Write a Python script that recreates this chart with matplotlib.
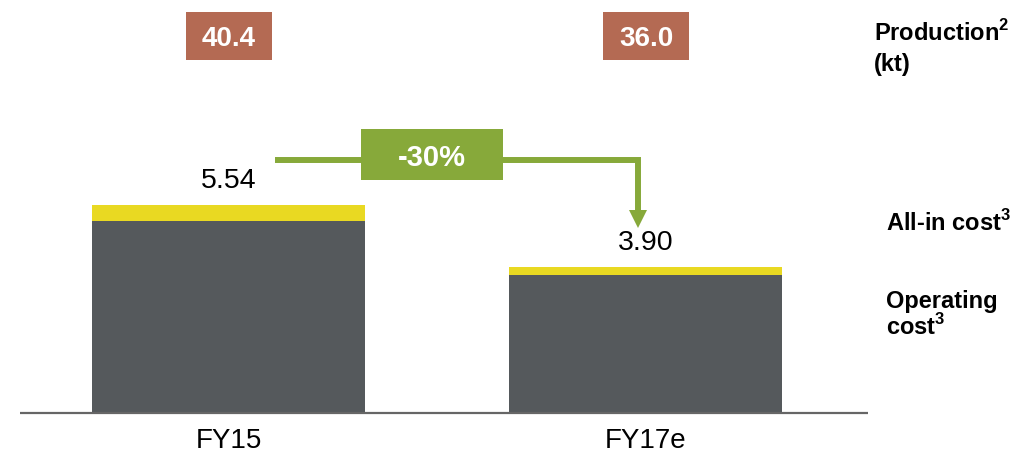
import matplotlib
matplotlib.use("Agg")
import matplotlib.pyplot as plt
from matplotlib.patches import Rectangle

# ---- data ----
categories = ["FY15", "FY17e"]
operating_cost = [5.12, 3.67]
all_in_cost = [5.54, 3.90]
production_kt = [40.4, 36.0]
change_label = "-30%"

plt.rcParams['font.family'] = ['Liberation Sans', 'DejaVu Sans']
plt.rcParams['mathtext.fontset'] = 'custom'
plt.rcParams['mathtext.rm'] = 'Liberation Sans'
plt.rcParams['mathtext.bf'] = 'Liberation Sans:bold'

DARK = "#55595C"
YELLOW = "#E9D922"
GREEN = "#87A93A"
BRICK = "#B46A53"

W, H = 1028, 457
fig = plt.figure(figsize=(W / 100, H / 100), dpi=100)

base_px = 413.0
px_per_unit = 37.55
x0_px, x_step = 228.5, 417.5

ax = fig.add_axes([0, (H - base_px) / H, 1, base_px / H])
ax.set_ylim(0, base_px / px_per_unit)
ax.set_xlim(-x0_px / x_step, (W - x0_px) / x_step)


def dx(px):  # pixel length -> data length (x)
    return px / x_step


def dy(px):  # pixel length -> data length (y)
    return px / px_per_unit


def px_x(px):
    return (px - x0_px) / x_step


def px_y(py):
    return (base_px - py) / px_per_unit


xs = list(range(len(categories)))
bw = dx(273)
ax.bar(xs, all_in_cost, bw, color=YELLOW, linewidth=0, zorder=2)
ax.bar(xs, operating_cost, bw, color=DARK, linewidth=0, zorder=3)

# baseline
ax.plot([px_x(20), px_x(868)], [0, 0], color="#666666", lw=1.6,
        clip_on=False, zorder=4, solid_capstyle="butt")

for s in ax.spines.values():
    s.set_visible(False)
ax.set_yticks([])
ax.set_xticks(xs, categories)
ax.tick_params(axis="x", length=0, pad=11, labelsize=20, labelcolor="black")

# value labels
for xi, v in zip(xs, all_in_cost):
    ax.annotate(f"{v:.2f}", xy=(xi, v), xytext=(0, 12), textcoords="offset points",
                ha="center", va="baseline", fontsize=20.5, color="black")

# production boxes
box_w, box_h = dx(86), dy(48)
yc = px_y(36)
for xi, p in zip(xs, production_kt):
    ax.add_patch(Rectangle((xi - box_w / 2, yc - box_h / 2), box_w, box_h,
                           facecolor=BRICK, edgecolor="none", clip_on=False, zorder=5))
    ax.text(xi, yc, f"{p:.1f}", ha="center", va="center_baseline", fontsize=20,
            fontweight="bold", color="white", zorder=6)

# change arrow
hy = px_y(160)
xs_start, xs_end = px_x(275), px_x(638)
head_base = px_y(210)
ax.plot([xs_start, xs_end, xs_end], [hy, hy, head_base], color=GREEN, lw=4.3,
        solid_joinstyle="miter", solid_capstyle="butt", zorder=5)
ax.plot([xs_end], [px_y(219)], marker="v", markersize=13.5, color=GREEN,
        markeredgewidth=0, zorder=5)

cw, ch = dx(142), dy(51)
cx, cy = px_x(432), px_y(154.5)
ax.add_patch(Rectangle((cx - cw / 2, cy - ch / 2), cw, ch, facecolor=GREEN,
                       edgecolor="none", zorder=6))
ax.text(cx, cy, change_label, ha="center", va="center_baseline", fontsize=21,
        fontweight="bold", color="white", zorder=7)

# right-hand legend labels
def rtext(xp, yp, s):
    fig.text(xp / W, 1 - yp / H, s, ha="left", va="baseline", fontsize=17,
             fontweight="bold", color="black")

rtext(874, 41, r"Production$^{\mathbf{2}}$")
rtext(874, 71, "(kt)")
rtext(886, 231, r"All-in cost$^{\mathbf{3}}$")
rtext(886, 308, "Operating")
rtext(886, 335, r"cost$^{\mathbf{3}}$")

fig.savefig("out.png", dpi=100)
